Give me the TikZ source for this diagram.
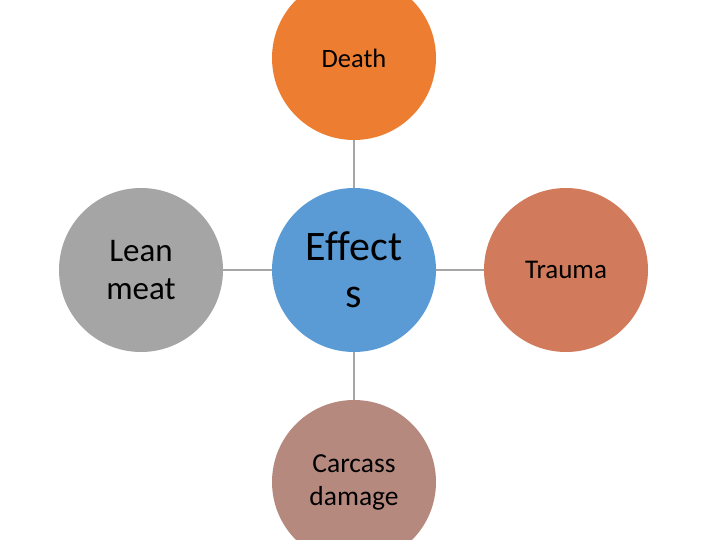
\documentclass[tikz,border=0pt]{standalone}
\usepackage{fontspec}
\setmainfont{Carlito}[Ligatures=NoCommon]
\definecolor{cOrange}{HTML}{ED7D31}
\definecolor{cBlue}{HTML}{5B9BD5}
\definecolor{cGray}{HTML}{A5A5A5}
\definecolor{cTrauma}{HTML}{D17B5C}
\definecolor{cCarcass}{HTML}{B6897F}
\definecolor{cLine}{HTML}{A6A6A6}
\begin{document}
\begin{tikzpicture}[x=1pt,y=-1pt,
  bubble/.style={circle, minimum size=164pt, inner sep=0pt, align=center, text=black},
  link/.style={draw=cLine, line width=2pt}]
\useasboundingbox (0,0) rectangle (720,540);
\clip (0,0) rectangle (720,540);
\node[bubble, fill=cBlue, font=\fontsize{42}{47}\selectfont] (eff) at (354,270) {Effect\\s};
\node[bubble, fill=cOrange, font=\fontsize{26.5}{31}\selectfont] (death) at (354,58) {Death};
\node[bubble, fill=cGray, font=\fontsize{33}{38}\selectfont] (lean) at (141,270) {Lean\\meat};
\node[bubble, fill=cTrauma, font=\fontsize{27}{32}\selectfont] (trauma) at (566,270) {Trauma};
\node[bubble, fill=cCarcass, font=\fontsize{27.5}{33}\selectfont] (carc) at (354,482) {Carcass\\damage};
\draw[link] (death) -- (eff);
\draw[link] (lean) -- (eff);
\draw[link] (eff) -- (trauma);
\draw[link] (eff) -- (carc);
\end{tikzpicture}
\end{document}
